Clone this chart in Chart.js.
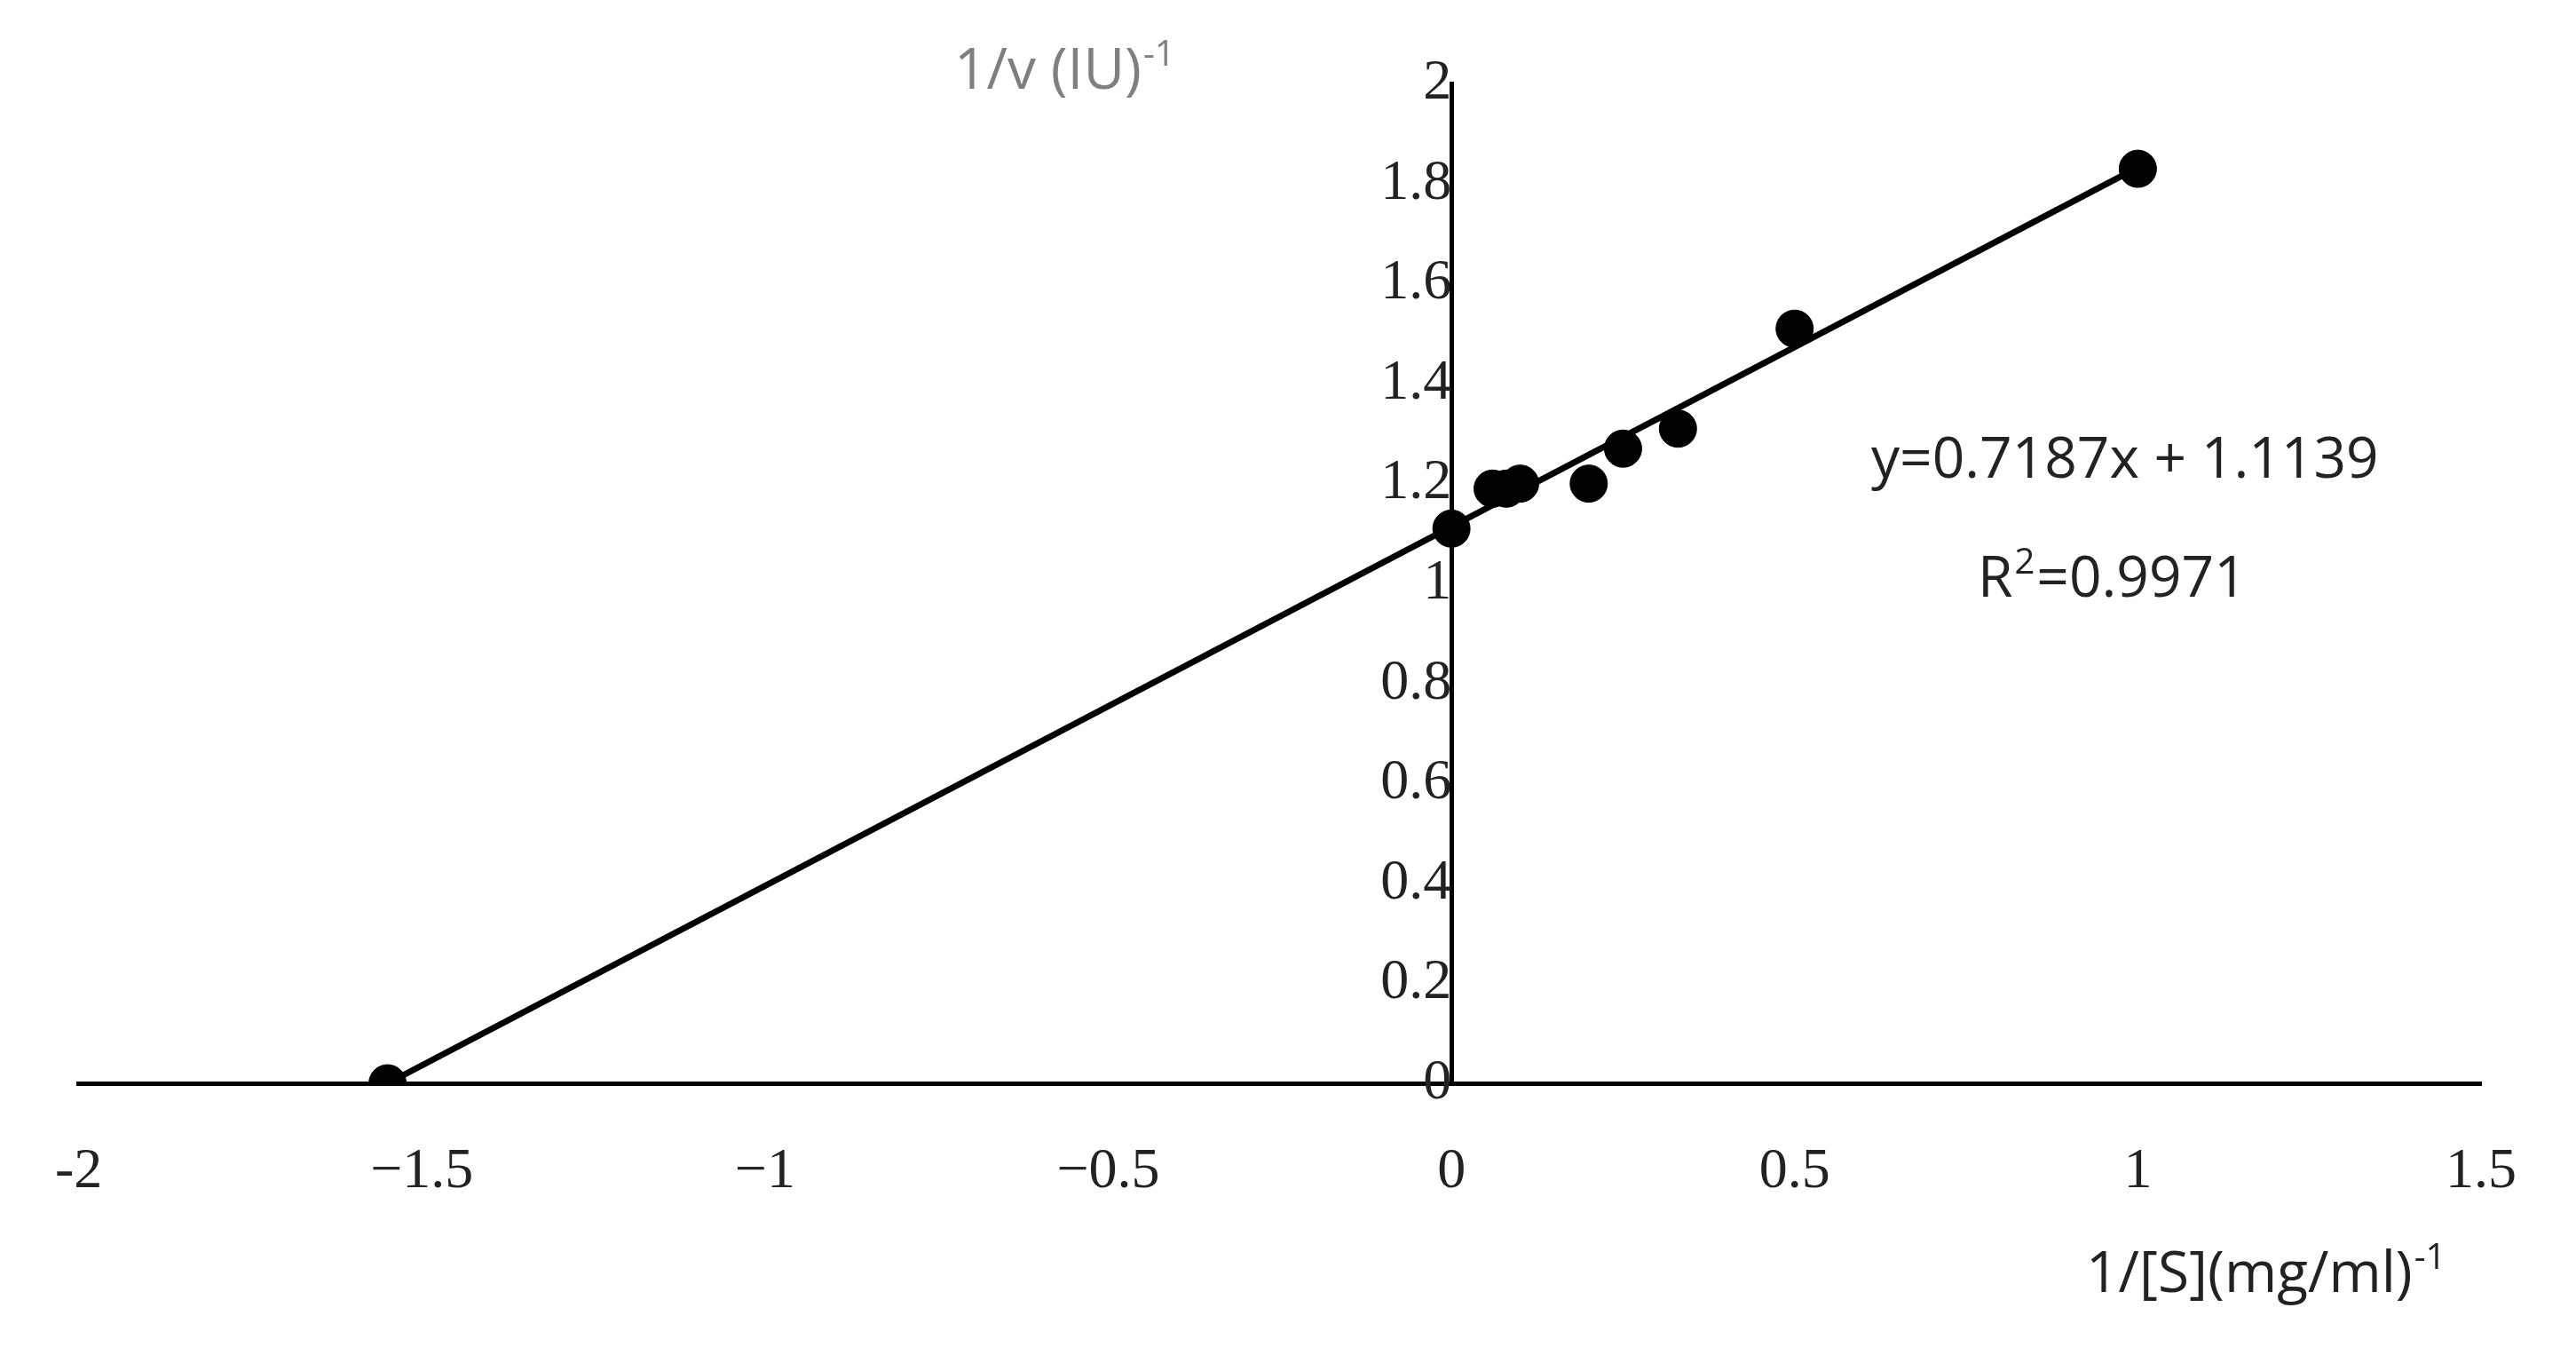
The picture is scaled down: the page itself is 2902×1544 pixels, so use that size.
<!DOCTYPE html>
<html><head><meta charset="utf-8">
<script src="https://cdn.jsdelivr.net/npm/chart.js@4"></script>
<style>html,body{margin:0;padding:0;background:#fff;overflow:hidden}#w{width:2902px;height:1544px}</style>
</head><body><div id="w"><canvas id="c"></canvas></div>
<script>
const xValues = [-1.55, 0, 0.06, 0.08, 0.1, 0.2, 0.25, 0.33, 0.5, 1];
const yValues = [0, 1.11, 1.19, 1.19, 1.2, 1.2, 1.27, 1.31, 1.51, 1.83];
const fitX = [-1.55, 1];
const slope = 0.7187, intercept = 1.1139;
const xTicks = [-2, -1.5, -1, -0.5, 0, 0.5, 1, 1.5];
const yTicks = [0, 0.2, 0.4, 0.6, 0.8, 1, 1.2, 1.4, 1.6, 1.8, 2];
const eqText = 'y=0.7187x + 1.1139';

const pts = xValues.map((x,i)=>({x, y:yValues[i]}));
const fit = fitX.map(x=>({x, y: Math.max(0, slope*x+intercept)}));

const F1 = '64px "Open Sans"', F2 = '40px "Open Sans"';
const sup = (ctx, base, s, x, y) => {
  ctx.font = F1; ctx.fillText(base, x, y);
  const w = ctx.measureText(base).width;
  ctx.font = F2; ctx.fillText(s, x + w + 2, y - 26);
  return w + 2 + ctx.measureText(s).width;
};
const textPlugin = {
  id:'txt',
  afterDraw(chart){
    const ctx = chart.ctx;
    ctx.save(); ctx.textBaseline='alphabetic'; ctx.textAlign='left';
    ctx.fillStyle='#7f7f7f';
    sup(ctx,'1/v (IU)','-1',1075,100);
    ctx.fillStyle='#222';
    sup(ctx,'1/[S](mg/ml)','-1',2350,1455);
    ctx.font=F1;
    ctx.fillText(eqText, 2108, 538);
    const w = sup(ctx,'R','2',2228,672);
    ctx.font=F1;
    ctx.fillText('=0.9971', 2228+w+2, 672);
    ctx.restore();
  }
};
Chart.defaults.devicePixelRatio = 1;
new Chart(document.getElementById('c'), {
  type:'scatter',
  data:{datasets:[
    {type:'line', data:fit, borderColor:'#000', borderWidth:7, pointRadius:0, fill:false},
    {data:pts, backgroundColor:'#000', borderColor:'#000', pointRadius:21, pointHoverRadius:21}
  ]},
  options:{
    responsive:true, maintainAspectRatio:false, animation:false,
    layout:{padding:{left:65, right:107, top:70, bottom:324}},
    plugins:{legend:{display:false}, tooltip:{enabled:false}},
    scales:{
      x:{type:'linear', min:-2, max:1.5, position:{y:0},
        afterBuildTicks(s){ s.ticks = xTicks.map(v=>({value:v})); },
        grid:{display:false, drawTicks:false},
        border:{color:'#000', width:5},
        ticks:{padding:62, color:'#222', font:{family:'Liberation Serif', size:64},
          callback:v=> v<0 && v!==-2 ? '\u2212'+Math.abs(v) : String(v)}},
      y:{type:'linear', min:0, max:2, position:{x:0},
        afterBuildTicks(s){ s.ticks = yTicks.map(v=>({value:v})); },
        grid:{display:false, drawTicks:false},
        border:{color:'#000', width:5},
        ticks:{padding:56, color:'#222', font:{family:'Liberation Serif', size:64},
          callback:v=>String(v)}}
    }
  },
  plugins:[textPlugin]
});
</script></body></html>
